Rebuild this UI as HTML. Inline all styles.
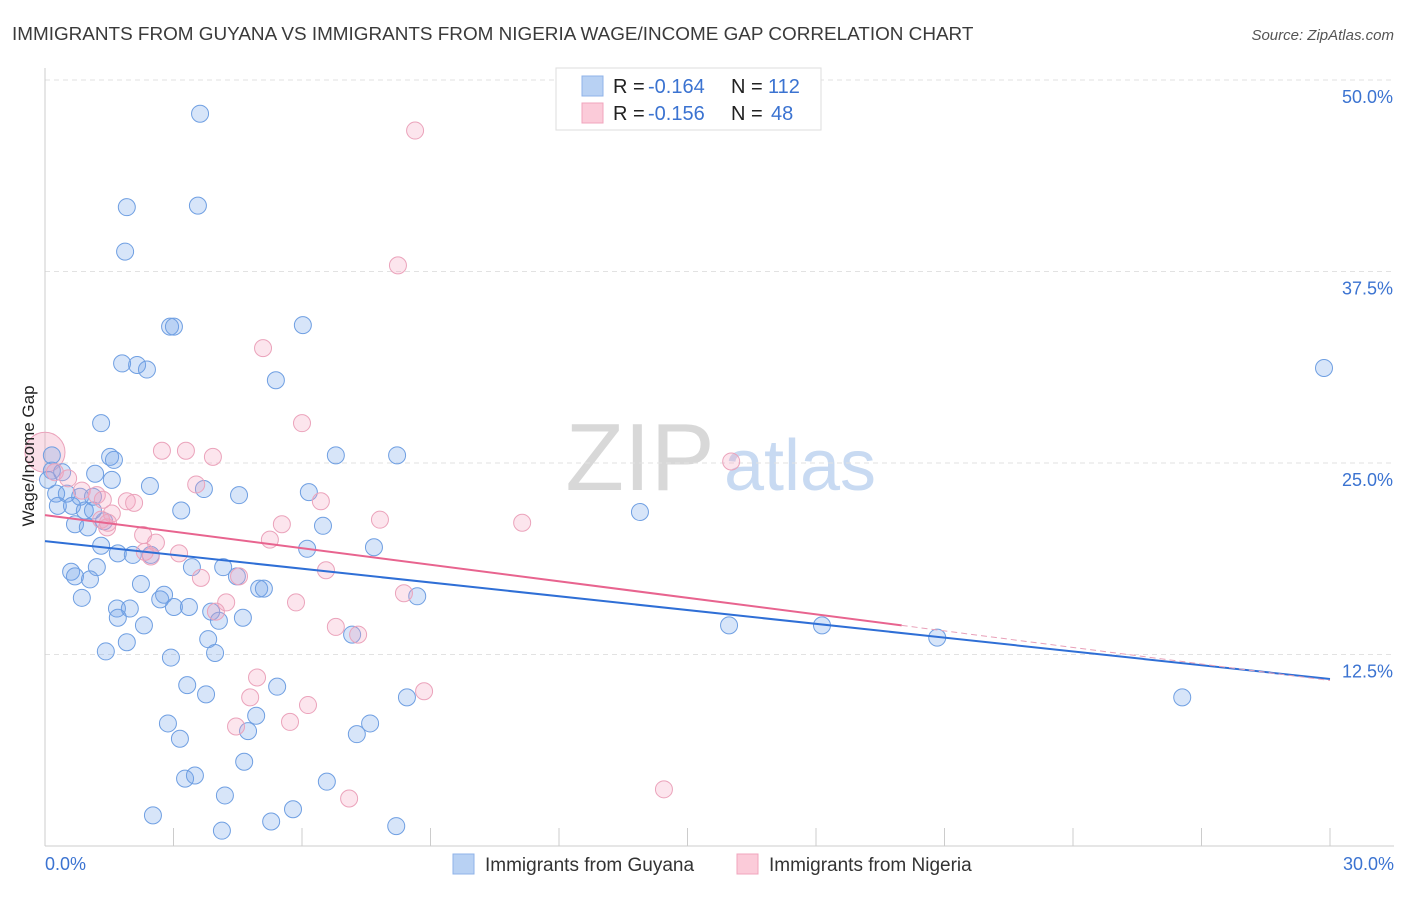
<!DOCTYPE html>
<html><head><meta charset="utf-8"><style>
body{margin:0;background:#fff;font-family:"Liberation Sans",sans-serif;}
svg text{font-family:"Liberation Sans",sans-serif;}
</style></head><body>
<svg id="chart" width="1406" height="892">
<text x="12" y="40" font-size="18.9" fill="#3a3a3a">IMMIGRANTS FROM GUYANA VS IMMIGRANTS FROM NIGERIA WAGE/INCOME GAP CORRELATION CHART</text>
<text x="1394" y="40" font-size="15" fill="#555" font-style="italic" text-anchor="end">Source: ZipAtlas.com</text>
<text x="640" y="490" font-size="96" fill="#d8d8d8" font-family="Liberation Serif" text-anchor="middle">ZIP</text>
<text x="800" y="490" font-size="72" fill="#c8daf2" text-anchor="middle">atlas</text>
<g id="grid"></g><g id="axes"></g><g id="pts"></g><g id="trend"></g>
<text transform="translate(34,456) rotate(-90)" font-size="17" fill="#222" text-anchor="middle">Wage/Income Gap</text>
<g>
<rect x="556" y="68" width="265" height="62" fill="#fff" stroke="#ddd"/>
<rect x="582" y="76" width="21" height="20" fill="#b8d1f3" stroke="#8fb3e8"/>
<rect x="582" y="103" width="21" height="20" fill="#fbcbd9" stroke="#f0a5bd"/>
<text x="613" y="93" font-size="20" fill="#222">R =</text>
<text x="648" y="93" font-size="20" fill="#3b73d1">-0.164</text>
<text x="731" y="93" font-size="20" fill="#222">N =</text>
<text x="768" y="93" font-size="20" fill="#3b73d1">112</text>
<text x="613" y="120" font-size="20" fill="#222">R =</text>
<text x="648" y="120" font-size="20" fill="#3b73d1">-0.156</text>
<text x="731" y="120" font-size="20" fill="#222">N =</text>
<text x="771" y="120" font-size="20" fill="#3b73d1">48</text>
</g>
<g>
<rect x="453" y="854" width="21" height="20" fill="#b8d1f3" stroke="#8fb3e8"/>
<text x="485" y="871" font-size="19" fill="#333">Immigrants from Guyana</text>
<rect x="737" y="854" width="21" height="20" fill="#fbcbd9" stroke="#f0a5bd"/>
<text x="769" y="871" font-size="19" fill="#333">Immigrants from Nigeria</text>
</g>
</svg>
<script>
const guyanaX=[3.62,1.91,3.57,1.87,2.92,3.01,6.02,1.80,2.15,2.38,5.39,29.86,1.31,6.79,8.22,1.52,1.61,0.16,1.17,1.56,2.45,3.71,4.53,6.16,3.18,13.89,0.26,0.51,0.82,1.12,0.30,0.63,0.93,1.12,0.70,1.00,1.38,6.49,1.31,1.70,2.05,2.47,6.12,7.68,0.61,0.70,1.21,1.05,3.43,4.16,4.48,2.24,5.00,5.11,0.86,2.69,2.78,1.68,1.98,3.01,3.36,3.88,4.06,4.62,2.31,1.70,1.91,3.81,7.17,8.69,15.97,18.14,20.83,1.42,2.94,3.97,3.32,3.76,5.42,8.45,26.55,2.87,4.93,3.15,4.74,7.28,7.59,4.65,3.27,3.50,6.58,4.20,2.52,5.79,4.13,5.28,8.20,0.16,0.40,0.07];
const guyanaY=[47.8,41.7,41.8,38.8,33.9,33.9,34.0,31.5,31.4,31.1,30.4,31.2,27.6,25.5,25.5,25.4,25.2,25.5,24.3,23.9,23.5,23.3,22.9,23.1,21.9,21.8,23.0,23.0,22.8,22.8,22.2,22.2,21.9,21.9,21.0,20.8,21.2,20.9,19.6,19.1,19.0,19.0,19.4,19.5,17.9,17.6,18.2,17.4,18.2,18.2,17.6,17.1,16.8,16.8,16.2,16.1,16.4,15.5,15.5,15.6,15.6,15.3,14.7,14.9,14.4,14.9,13.3,13.5,13.8,16.3,14.4,14.4,13.6,12.7,12.3,12.6,10.5,9.9,10.4,9.7,9.7,8.0,8.5,7.0,7.5,7.3,8.0,5.5,4.4,4.6,4.2,3.3,2.0,2.4,1.0,1.6,1.3,24.5,24.4,23.9];
const nigeriaX=[8.64,8.24,5.09,6.00,2.73,3.29,3.92,16.02,0.23,0.54,0.86,1.21,1.35,1.91,2.08,1.56,1.31,1.45,3.53,6.44,7.82,11.14,2.29,2.59,5.53,5.25,2.33,3.13,2.47,4.53,6.56,3.64,4.23,3.99,5.86,8.38,6.79,7.31,4.95,4.79,8.85,4.46,5.72,6.14,7.10,14.45,1.47];
const nigeriaY=[46.7,37.9,32.5,27.6,25.8,25.8,25.4,25.1,24.4,24.0,23.2,22.9,22.6,22.5,22.4,21.7,21.3,20.8,23.6,22.5,21.3,21.1,20.3,19.8,21.0,20.0,19.2,19.1,18.9,17.6,18.0,17.5,15.9,15.3,15.9,16.5,14.3,13.8,11.0,9.7,10.1,7.8,8.1,9.2,3.1,3.7,21.1];
const yTicks=[12.5,25.0,37.5,50.0];
const xTickVals=[0,3,6,9,12,15,18,21,24,27,30];
const trendGuyana=[19.9,10.9];
const trendNigeria=[21.6,14.4,20.0];
const NS="http://www.w3.org/2000/svg";
const sx=v=>45+v*1285/30, sy=v=>846-v*191.5/12.5;
function mk(tag,attrs,parent){const e=document.createElementNS(NS,tag);for(const k in attrs)e.setAttribute(k,attrs[k]);parent.appendChild(e);return e;}
const grid=document.getElementById('grid'),axes=document.getElementById('axes'),pts=document.getElementById('pts'),tr=document.getElementById('trend');
yTicks.forEach(t=>{const l=mk('line',{x1:45,x2:1394,y1:sy(t),y2:sy(t),stroke:'#e2e2e2','stroke-dasharray':'5,4'},grid);


const tx=mk('text',{x:1393,y:sy(t)+23,'font-size':18,fill:'#3b73d1','text-anchor':'end'},axes);tx.textContent=t.toFixed(1)+'%';

});
const ax=mk('line',{x1:45,x2:1394,y1:846,y2:846,stroke:'#ccc'},axes);


const ay=mk('line',{x1:45,x2:45,y1:68,y2:846,stroke:'#ccc'},axes);


xTickVals.forEach(t=>{const l=mk('line',{x1:sx(t),x2:sx(t),y1:828,y2:846,stroke:'#ccc'},axes);

});
const xl0=mk('text',{x:45,y:870,'font-size':18,fill:'#3b73d1'},axes);xl0.textContent='0.0%';


const xl1=mk('text',{x:1394,y:870,'font-size':18,fill:'#3b73d1','text-anchor':'end'},axes);xl1.textContent='30.0%';


const big=mk('circle',{cx:sx(0),cy:sy(25.7),r:20,fill:'rgba(240,150,180,0.3)',stroke:'#eba3bb'},pts);


guyanaX.forEach((x,i)=>{const c=mk('circle',{cx:sx(x),cy:sy(guyanaY[i]),r:8.5,fill:'rgba(110,160,235,0.28)',stroke:'#6f9fe2','stroke-width':1},pts);

});
nigeriaX.forEach((x,i)=>{const c=mk('circle',{cx:sx(x),cy:sy(nigeriaY[i]),r:8.5,fill:'rgba(245,160,190,0.28)',stroke:'#eba3bb','stroke-width':1},pts);

});
const tg=mk('line',{x1:sx(0),y1:sy(trendGuyana[0]),x2:sx(30),y2:sy(trendGuyana[1]),stroke:'#2f6fd6','stroke-width':2},tr);


const slope=(trendNigeria[1]-trendNigeria[0])/trendNigeria[2];
const tn=mk('line',{x1:sx(0),y1:sy(trendNigeria[0]),x2:sx(trendNigeria[2]),y2:sy(trendNigeria[1]),stroke:'#e8648f','stroke-width':2},tr);


const td=mk('line',{x1:sx(trendNigeria[2]),y1:sy(trendNigeria[1]),x2:sx(30),y2:sy(trendNigeria[0]+slope*30),stroke:'#e8a0b8','stroke-width':1,'stroke-dasharray':'6,4'},tr);


</script>
</body></html>
